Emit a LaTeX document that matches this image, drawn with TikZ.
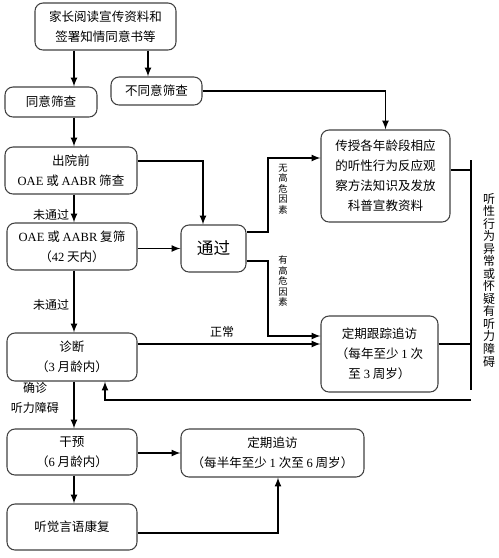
\documentclass[tikz,border=0pt]{standalone}
\usepackage{fontspec}
\setmainfont{Noto Sans CJK SC}
\newfontfamily\lat{Liberation Serif}
\usetikzlibrary{arrows,calc}

\tikzset{
  box/.style={draw=black!75, line width=0.8pt, rounded corners=6pt, align=center, inner sep=0pt, font=\fontsize{9.4}{15}\selectfont},
  conn/.style={->, line width=1.3pt},
  wire/.style={line width=1.3pt},
  lbl/.style={font=\fontsize{9}{12}\selectfont, inner sep=0pt},
  vlbl/.style={font=\fontsize{7}{7.9}\selectfont, align=center, inner sep=0pt},
}

\begin{document}
\begin{tikzpicture}[>=latex, x=0.75pt, y=-0.75pt]
			\useasboundingbox (0,0) rectangle (499,558);
			% Columns of the left flow
			\coordinate (colA) at (74,0);
			\coordinate (colB) at (148,0);
			\coordinate (riskX) at (268,0);
			\coordinate (brT) at (471,160);
			\coordinate (brB) at (471,390);
			\coordinate (fb) at (471,400);
			
			% Boxes
			\node[box, minimum width=105.75pt, minimum height=35.25pt] (read) at (105.5,26.5) {家长阅读宣传资料和\\签署知情同意书等};
			\node[box, minimum width=69pt, minimum height=22.5pt] (agree) at (51,102) {同意筛查};
			\node[box, minimum width=68.25pt, minimum height=21pt] (disagree) at (156.5,91) {不同意筛查};
			\node[box, minimum width=96.75pt, minimum height=69pt] (teach) at (385.5,176) {传授各年龄段相应\\的听性行为反应观\\察方法知识及发放\\科普宣教资料};
			\node[box, minimum width=99pt, minimum height=35.25pt] (discharge) at (71,170.5) {出院前\\{\lat OAE} 或 {\lat AABR} 筛查};
			\node[box, minimum width=97.5pt, minimum height=35.25pt] (rescreen) at (72,246.5) {{\lat OAE} 或 {\lat AABR} 复筛\\（{\lat 42} 天内）};
			\node[box, minimum width=48.75pt, minimum height=35.25pt, font=\fontsize{12.5}{15}\selectfont] (pass) at (213.5,248.5) {通过};
			\node[box, minimum width=87.75pt, minimum height=57pt] (follow) at (379.5,354) {定期跟踪追访\\（每年至少 {\lat 1} 次\\至 {\lat 3} 周岁）};
			\node[box, minimum width=97.5pt, minimum height=36pt] (diag) at (72,357) {诊断\\（{\lat 3} 月龄内）};
			\node[box, minimum width=97.5pt, minimum height=34.5pt] (interv) at (72,452) {干预\\（{\lat 6} 月龄内）};
			\node[box, minimum width=137.25pt, minimum height=36pt] (revisit) at (272.5,453) {定期追访\\（每半年至少 {\lat 1} 次至 {\lat 6} 周岁）};
			\node[box, minimum width=97.5pt, minimum height=34.5pt] (rehab) at (72,527) {听觉言语康复};
			
			% Connectors
			\draw[conn] (read.south -| colA) -- (agree.north -| colA);
			\draw[conn] (read.south -| colB) -- (disagree.north -| colB);
			\draw[conn] (agree.south -| colA) -- (discharge.north -| colA);
			\draw[conn] (disagree.east) -| (teach.north);
			\draw[conn] ($(discharge.east)+(0,-9.5)$) -| ($(pass.north)+(-10.5,0)$);
			\draw[conn] (discharge.south -| colA) -- (rescreen.north -| colA);
			\draw[conn] (rescreen.east |- pass.west) -- (pass.west);
			\draw[conn] (rescreen.south -| colA) -- (diag.north -| colA);
			\draw[conn] ($(pass.east)+(0,-16.5)$) coordinate (p1) -- (p1 -| riskX) |- ($(teach.west)+(0,-18)$);
			\draw[conn] ($(pass.east)+(0,12.5)$) coordinate (p2) -- (p2 -| riskX) |- ($(follow.west)+(0,-18)$);
			\draw[conn] ($(diag.east)+(0,-13)$) coordinate (d0) -- (d0 -| follow.west);
			\draw[conn] (diag.south -| colA) -- (interv.north -| colA);
			\draw[conn] (interv.east |- revisit.west) -- (revisit.west);
			\draw[conn] (interv.south -| colA) -- (rehab.north -| colA);
			\draw[conn] ($(rehab.east)+(0,6)$) -| ($(revisit.south)+(5.5,0)$);
			
			% Bracket on the right and the way back to the diagnosis
			\draw[wire] ($(teach.east)+(0,-6)$) coordinate (t1) -- (t1 -| brT);
			\draw[wire] ($(follow.east)+(0,-10)$) coordinate (f1) -- (f1 -| brT);
			\draw[wire] (brT) -- (brB);
			\draw[conn] (fb) -| ($(diag.south)+(33,0)$);
			
			% Labels
			\node[lbl] (fail1) at (51,215) {未通过};
			\node[lbl] (fail2) at (51,305) {未通过};
			\node[lbl] (normal) at (222,332) {正常};
			\node[lbl] (confirm) at (35,388) {确诊};
			\node[lbl] (loss) at (35,408) {听力障碍};
			\node[vlbl] (norisk) at (283,189) {无\\高\\危\\因\\素};
			\node[vlbl] (risk) at (283,281) {有\\高\\危\\因\\素};
			\node[font=\fontsize{9}{9.4}\selectfont, align=center, inner sep=0pt] (abnormal) at (489,280) {听\\性\\行\\为\\异\\常\\或\\怀\\疑\\有\\听\\力\\障\\碍};
\end{tikzpicture}
\end{document}
